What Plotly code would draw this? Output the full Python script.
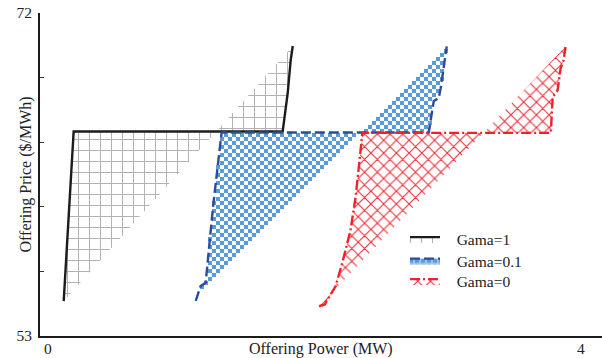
import plotly.graph_objects as go

# Offering curves: power (MW) vs price ($/MWh) for three risk weights
gama1_power = [0.174, 0.247, 1.781, 1.818, 1.840, 1.855]
gama1_price = [55.05, 65.03, 65.03, 67.28, 69.22, 70.06]

gama01_power = [1.143, 1.179, 1.216, 1.270, 1.333, 2.853, 2.890, 2.926, 2.941, 2.985]
gama01_price = [55.06, 55.94, 56.14, 60.60, 64.97, 64.97, 66.82, 66.99, 67.58, 70.04]

gama0_power = [2.048, 2.090, 2.170, 2.219, 2.280, 2.317, 2.343, 2.366,
               3.749, 3.763, 3.799, 3.821, 3.843, 3.858]
gama0_price = [54.75, 54.86, 55.94, 57.31, 59.26, 61.21, 63.17, 64.95,
               64.95, 67.05, 67.46, 68.75, 69.22, 70.04]

series_names = ["Gama=1", "Gama=0.1", "Gama=0"]

x_ticks = [0, 0.8, 1.6, 2.4, 3.2, 4.0]
x_tick_labels = {0: "0", 4: "4"}
y_ticks = [53, 56.8, 60.6, 64.4, 68.2, 72]
y_tick_labels = ["53", "", "", "", "", "72"]

# ---- layout geometry -------------------------------------------------
FIG_W, FIG_H = 602, 358
M_L, M_R, M_T, M_B = 40, 0, 13, 22
PLOT_W = FIG_W - M_L - M_R
PLOT_H = FIG_H - M_T - M_B
X_RANGE = [0, PLOT_W / 136.25]
Y_RANGE = [53, 72]

FONT = "Liberation Serif"
BLACK = "#1c1c1c"
BLUE_LINE = "#2c4a9e"
BLUE_FILL = "#5b9bd5"
RED = "#ee2229"


def to_px(x, y):
    px = M_L + (x - X_RANGE[0]) / (X_RANGE[1] - X_RANGE[0]) * PLOT_W
    py = M_T + (Y_RANGE[1] - y) / (Y_RANGE[1] - Y_RANGE[0]) * PLOT_H
    return px, py


def to_data(px, py):
    x = X_RANGE[0] + (px - M_L) / PLOT_W * (X_RANGE[1] - X_RANGE[0])
    y = Y_RANGE[1] - (py - M_T) / PLOT_H * (Y_RANGE[1] - Y_RANGE[0])
    return x, y


def inside(pt, poly):
    x, y = pt
    n = len(poly)
    hit = False
    for k in range(n):
        x1, y1 = poly[k]
        x2, y2 = poly[(k + 1) % n]
        if (y1 > y) != (y2 > y):
            xc = x1 + (y - y1) * (x2 - x1) / (y2 - y1)
            if xc > x:
                hit = not hit
    return hit


# checkerboard texture for the Gama=0.1 region (curve closed by its chord)
CELL = 4
poly_px = [to_px(x, y) for x, y in zip(gama01_power, gama01_price)]
xs = [p[0] for p in poly_px]
ys = [p[1] for p in poly_px]
chk_x, chk_y = [], []
i0, i1 = int((min(xs) - M_L) // CELL), int((max(xs) - M_L) // CELL) + 1
j0, j1 = int((min(ys) - M_T) // CELL), int((max(ys) - M_T) // CELL) + 1
for i in range(i0, i1 + 1):
    for j in range(j0, j1 + 1):
        if (i + j) % 2:
            continue
        cx = M_L + (i + 0.5) * CELL
        cy = M_T + (j + 0.5) * CELL
        if inside((cx, cy), poly_px):
            dx, dy = to_data(cx, cy)
            chk_x.append(dx)
            chk_y.append(dy)

fig = go.Figure()

# Gama=1: grid hatch (odd tile size keeps the 1px lines on pixel centres)
fig.add_trace(go.Scatter(
    x=gama1_power, y=gama1_price, name="\u00a0\u00a0\u00a0" + series_names[0],
    mode="lines", fill="toself", fillcolor="rgba(0,0,0,0)",
    fillpattern=dict(shape="+", size=11, solidity=0.174, fgcolor="#666666",
                     bgcolor="rgba(0,0,0,0)"),
    line=dict(color=BLACK, width=2.4), legend="legend",
))

# Gama=0.1: checkerboard squares + dashed curve
fig.add_trace(go.Scatter(
    x=chk_x, y=chk_y, mode="markers", showlegend=False, hoverinfo="skip",
    marker=dict(symbol="square", size=CELL, color=BLUE_FILL, line=dict(width=0)),
))
fig.add_trace(go.Scatter(
    x=gama01_power, y=gama01_price, showlegend=False,
    mode="lines", line=dict(color=BLUE_LINE, width=2.4, dash="10px,4px"),
))
fig.add_trace(go.Scatter(
    x=[None], y=[None], name="\u00a0\u00a0\u00a0" + series_names[1],
    mode="lines", fill="toself", fillcolor="rgba(0,0,0,0)",
    fillpattern=dict(shape="+", size=6, solidity=0.45, fgcolor="white",
                     bgcolor=BLUE_FILL),
    line=dict(color=BLUE_LINE, width=2.4, dash="10px,4px"), legend="legend2",
))

# Gama=0: red mesh
fig.add_trace(go.Scatter(
    x=gama0_power, y=gama0_price, name="\u00a0\u00a0\u00a0" + series_names[2],
    mode="lines", fill="toself", fillcolor="rgba(0,0,0,0)",
    fillpattern=dict(shape="x", size=9, solidity=0.22, fgcolor="#ee2a35",
                     bgcolor="rgba(0,0,0,0)", fgopacity=1),
    line=dict(color=RED, width=2.4, dash="10px,3px,2px,3px"), legend="legend3",
))

tick_font = dict(family=FONT, size=15.5, color="#222")

annotations = [
    dict(x=x_ticks[0], y=0, xref="x", yref="paper", text=x_tick_labels[0],
         showarrow=False, xanchor="center", yanchor="top", xshift=8, yshift=-2,
         font=tick_font),
    dict(x=x_ticks[-1], y=0, xref="x", yref="paper", text=x_tick_labels[4],
         showarrow=False, xanchor="center", yanchor="top", xshift=-4, yshift=-2,
         font=tick_font),
    dict(x=0.5, y=0, xref="paper", yref="paper", text="Offering Power (MW)",
         showarrow=False, xanchor="center", yanchor="top", yshift=-2,
         font=dict(family=FONT, size=16, color="#222")),
    dict(x=0, y=0.5, xref="paper", yref="paper", text="Offering Price ($/MWh)",
         showarrow=False, xanchor="center", yanchor="middle", xshift=-15,
         textangle=-90, font=dict(family=FONT, size=16, color="#222")),
]


def legend_box(top_px):
    return dict(x=(405 - M_L) / PLOT_W, y=(FIG_H - M_B - top_px) / PLOT_H,
                xanchor="left", yanchor="top", bgcolor="rgba(0,0,0,0)",
                font=dict(family=FONT, size=15.5, color="#222"), itemwidth=30)


fig.update_layout(
    width=FIG_W, height=FIG_H,
    margin=dict(l=M_L, r=M_R, t=M_T, b=M_B, pad=0),
    paper_bgcolor="white", plot_bgcolor="white",
    font=dict(family=FONT, size=15.5, color="#222"),
    showlegend=True,
    legend=legend_box(222.5),
    legend2=legend_box(244),
    legend3=legend_box(264.5),
    xaxis=dict(range=X_RANGE, showline=True, linewidth=2, linecolor=BLACK,
               ticks="", showticklabels=False, showgrid=False, zeroline=False),
    xaxis2=dict(range=X_RANGE, overlaying="x", matches="x", side="top",
                showline=True, linewidth=1.2, linecolor="#333",
                ticks="inside", ticklen=4, tickwidth=1.2, tickcolor="#333",
                tickvals=x_ticks, showticklabels=False, showgrid=False,
                zeroline=False),
    yaxis=dict(range=Y_RANGE, showline=True, linewidth=2, linecolor=BLACK,
               ticks="inside", ticklen=4, tickwidth=1.2, tickcolor="#333",
               tickvals=y_ticks, ticktext=y_tick_labels, tickfont=tick_font,
               ticklabelstandoff=3, showgrid=False, zeroline=False),
    yaxis2=dict(range=Y_RANGE, overlaying="y", matches="y", side="right",
                showline=False, ticks="inside", ticklen=4, tickwidth=1.2,
                tickcolor="#333", tickvals=y_ticks, showticklabels=False,
                showgrid=False, zeroline=False),
    annotations=annotations,
)

fig.write_html("out.html")
